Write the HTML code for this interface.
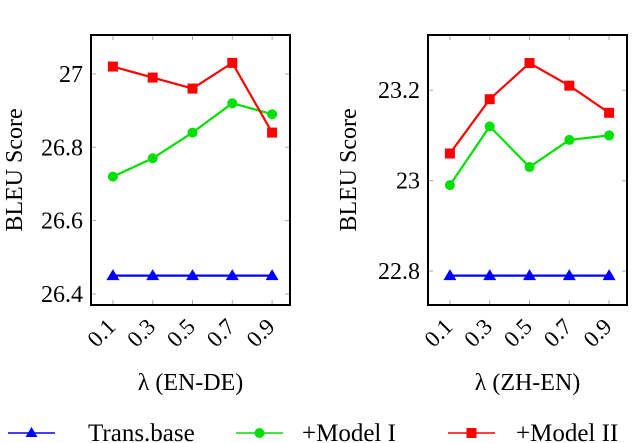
<!DOCTYPE html>
<html><head><meta charset="utf-8"><style>
html,body{margin:0;padding:0;background:#fff}
svg{display:block;font-family:"Liberation Serif","DejaVu Serif",serif}
svg text{font-family:"Liberation Serif","DejaVu Serif",serif;fill:#000}
</style></head><body>
<svg id="c" width="640" height="443" viewBox="0 0 640 443" font-family="Liberation Serif, DejaVu Serif, serif"></svg>
<script>
const xCats=[0.1,0.3,0.5,0.7,0.9];
const xTickLabels=["0.1","0.3","0.5","0.7","0.9"];
const deBase=[26.45,26.45,26.45,26.45,26.45];
const deModel1=[26.72,26.77,26.84,26.92,26.89];
const deModel2=[27.02,26.99,26.96,27.03,26.84];
const deYTicks=[26.4,26.6,26.8,27];
const deYLabels=["26.4","26.6","26.8","27"];
const zhBase=[22.79,22.79,22.79,22.79,22.79];
const zhModel1=[22.99,23.12,23.03,23.09,23.10];
const zhModel2=[23.06,23.18,23.26,23.21,23.15];
const zhYTicks=[22.8,23,23.2];
const zhYLabels=["22.8","23","23.2"];

const NS="http://www.w3.org/2000/svg";
const FF="'Liberation Serif', 'DejaVu Serif', serif";
const svg=document.getElementById('c');
function mk(tag,attrs,parent){const e=document.createElementNS(NS,tag);for(const k in attrs)e.setAttribute(k,attrs[k]);if(tag==='text')e.setAttribute('font-family',FF);(parent||svg).appendChild(e);return e;}

function panel(cfg){
  const g=mk('g',{});
  
  
  const L=cfg.left,R=cfg.right,T=35,B=305;
  const xs=v=>L+(v-0)/(1.0-0)*(R-L)+2;
  const ys=v=>B-(v-cfg.ymin)/(cfg.ymax-cfg.ymin)*(B-T);
  xCats.forEach((v,i)=>{
    const x=xs(v);
    const t1=mk('line',{x1:x,y1:T,x2:x,y2:T+5,stroke:'#aaa','stroke-width':1},g);
    
    const t2=mk('line',{x1:x,y1:B,x2:x,y2:B-5,stroke:'#aaa','stroke-width':1},g);
    
    const tx=mk('text',{x:x+4,y:B+23,'font-size':23,'text-anchor':'end',transform:`rotate(-45 ${x+4} ${B+23})`},g);
    tx.textContent=xTickLabels[i];
    
  });
  cfg.yTicks.forEach((v,i)=>{
    const y=ys(v);
    const a=mk('line',{x1:L,y1:y,x2:L+5,y2:y,stroke:'#aaa','stroke-width':1},g);
    
    const b=mk('line',{x1:R,y1:y,x2:R-5,y2:y,stroke:'#aaa','stroke-width':1},g);
    
    const tx=mk('text',{x:L-8,y:y+8,'font-size':24,'text-anchor':'end'},g);
    tx.textContent=cfg.yLabels[i];
    
  });
  const series=[[cfg.base,'#0000ff','tri'],[cfg.m1,'#00e000','circ'],[cfg.m2,'#ff0000','sq']];
  series.forEach(([vals,col,mkType])=>{
    const pts=vals.map((v,i)=>xs(xCats[i])+','+ys(v)).join(' ');
    const pl=mk('polyline',{points:pts,fill:'none',stroke:col,'stroke-width':2.2},g);
    
    vals.forEach((v,i)=>{
      const x=xs(xCats[i]),y=ys(v);let m;
      if(mkType==='tri')m=mk('polygon',{points:`${x},${y-6.5} ${x-6.5},${y+4.5} ${x+6.5},${y+4.5}`,fill:col},g);
      else if(mkType==='circ')m=mk('circle',{cx:x,cy:y,r:5},g),m.setAttribute('fill',col);
      else m=mk('rect',{x:x-5,y:y-5,width:10,height:10,fill:col},g);
      
    });
  });
  const box=mk('rect',{x:L,y:T,width:R-L,height:B-T,fill:'none',stroke:'#000','stroke-width':2},g);
  
  const yt=mk('text',{x:cfg.ytx,y:170,'font-size':24,'text-anchor':'middle',transform:`rotate(-90 ${cfg.ytx} 170)`},g);
  yt.textContent='BLEU Score';
  
  const xt=mk('text',{x:(L+R)/2,y:390,'font-size':24,'text-anchor':'middle'},g);
  xt.textContent=cfg.xtitle;
  
}
panel({name:'en-de-panel',left:91,right:290,ymin:26.37,ymax:27.106,yTicks:deYTicks,yLabels:deYLabels,base:deBase,m1:deModel1,m2:deModel2,ytx:22,xtitle:'λ (EN-DE)'});
panel({name:'zh-en-panel',left:428,right:627,ymin:22.725,ymax:23.322,yTicks:zhYTicks,yLabels:zhYLabels,base:zhBase,m1:zhModel1,m2:zhModel2,ytx:356,xtitle:'λ (ZH-EN)'});

const leg=[['Trans.base','#0000ff','tri',8,88],['+Model I','#00e000','circ',236,302],['+Model II','#ff0000','sq',448,516]];
const lg=mk('g',{});


leg.forEach(([lab,col,t,x0,tx])=>{
  const e=mk('g',{},lg);
  
  
  const y=433;
  mk('line',{x1:x0,y1:y,x2:x0+47,y2:y,stroke:col,'stroke-width':1.5},e);
  const cx=x0+23.5;
  if(t==='tri')mk('polygon',{points:`${cx},${y-6} ${cx-6},${y+4} ${cx+6},${y+4}`,fill:col},e);
  else if(t==='circ')mk('circle',{cx:cx,cy:y,r:5,fill:col},e);
  else mk('rect',{x:cx-5,y:y-5,width:10,height:10,fill:col},e);
  const te=mk('text',{x:tx,y:y+8,'font-size':25},e);
  te.textContent=lab;
});
</script>
</body></html>
